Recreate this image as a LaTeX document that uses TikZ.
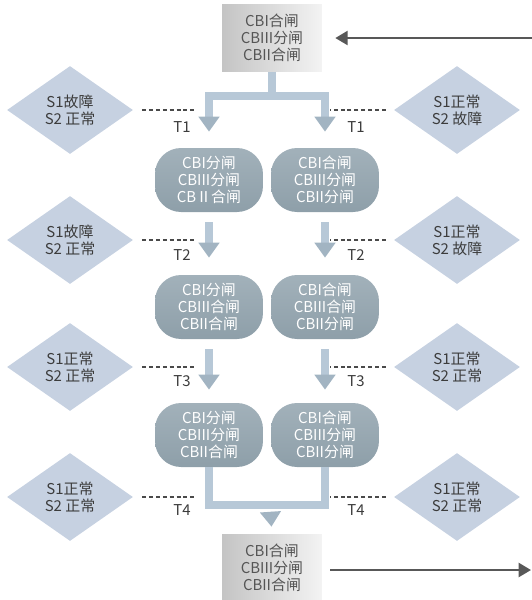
\documentclass[tikz,border=0pt]{standalone}
\usepackage{fontspec}
\setmainfont{Noto Sans CJK SC}
\usetikzlibrary{arrows.meta, shapes.geometric}

\begin{document}
\begin{tikzpicture}[x=0.02cm, y=-0.02cm,
    txt/.style={align=center, inner sep=0pt, font=\fontsize{8.5}{9.6}\selectfont},
    gbox/.style={txt, minimum width=2cm, minimum height=1.34cm, left color=gboxl, right color=gboxr, text=boxtext},
    pill/.style={txt, minimum width=2.16cm, minimum height=1.28cm, rounded corners=0.52cm, top color=pilltop, bottom color=pillbot, text=white},
    cond/.style={txt, diamond, minimum width=2.52cm, minimum height=1.76cm, fill=condfill, text=condtext},
    tlabel/.style={font=\fontsize{8.5}{9.6}\selectfont, text=condtext, inner sep=0pt},
    flowline/.style={draw=flowcol, line width=4pt},
    flow/.style={flowline, -{Triangle[width=11.5pt, length=8.5pt, fill=tipcol, color=tipcol]}},
    dotline/.style={draw=dotcol, line width=0.6pt, dash pattern=on 2.3pt off 1.6pt},
    sidearrow/.style={draw=arrcol, line width=1.2pt, -{Triangle[width=8pt, length=7pt]}}]
      \definecolor{gboxl}{HTML}{C4C4C4}
      \definecolor{gboxr}{HTML}{F3F3F3}
      \definecolor{boxtext}{HTML}{555555}
      \definecolor{pilltop}{HTML}{A2B1BA}
      \definecolor{pillbot}{HTML}{8E9FA9}
      \definecolor{condfill}{HTML}{C6D1E1}
      \definecolor{condtext}{HTML}{3C3C3C}
      \definecolor{flowcol}{HTML}{B7C8D7}
      \definecolor{tipcol}{HTML}{A2B4C2}
      \definecolor{dotcol}{HTML}{4A4A4A}
      \definecolor{arrcol}{HTML}{585858}
      \useasboundingbox (0,0) rectangle (532,600);

      % breaker states
      \node[gbox] (top) at (272,38)  {CBI合闸\\CBIII分闸\\CBII合闸};
      \node[pill] (l1)  at (209,180) {CBI分闸\\CBIII分闸\\CBⅡ合闸};
      \node[pill] (r1)  at (325,180) {CBI合闸\\CBIII分闸\\CBII分闸};
      \node[pill] (l2)  at (209,307) {CBI分闸\\CBIII合闸\\CBII合闸};
      \node[pill] (r2)  at (325,307) {CBI合闸\\CBIII合闸\\CBII分闸};
      \node[pill] (l3)  at (209,435) {CBI分闸\\CBIII分闸\\CBII合闸};
      \node[pill] (r3)  at (325,435) {CBI合闸\\CBIII分闸\\CBII分闸};
      \node[gbox] (bot) at (272,568) {CBI合闸\\CBIII分闸\\CBII合闸};

      % supply conditions
      \node[cond] (dl1) at (70,110)  {S1故障\\S2 正常};
      \node[cond] (dr1) at (457,110) {S1正常\\S2 故障};
      \node[cond] (dl2) at (70,240)  {S1故障\\S2 正常};
      \node[cond] (dr2) at (457,240) {S1正常\\S2 故障};
      \node[cond] (dl3) at (70,367)  {S1正常\\S2 正常};
      \node[cond] (dr3) at (457,367) {S1正常\\S2 正常};
      \node[cond] (dl4) at (70,497)  {S1正常\\S2 正常};
      \node[cond] (dr4) at (457,497) {S1正常\\S2 正常};

      % flow
      \coordinate (split) at (272,96);
      \coordinate (merge) at (270,505);
      \draw[flowline] (top.south) -- (split);
      \draw[flow, shorten >=0.32cm] (split) -| (l1.north);
      \draw[flow, shorten >=0.32cm] (split) -| (r1.north);
      \draw[flow, shorten <=0.2cm, shorten >=0.34cm] (l1.south) -- (l2.north);
      \draw[flow, shorten <=0.2cm, shorten >=0.34cm] (r1.south) -- (r2.north);
      \draw[flow, shorten <=0.2cm, shorten >=0.26cm] (l2.south) -- (l3.north);
      \draw[flow, shorten <=0.2cm, shorten >=0.26cm] (r2.south) -- (r3.north);
      \draw[flowline] (l3.south) |- (merge) -| (r3.south);
      \draw[flow, shorten <=0.14cm, shorten >=0.15cm] (merge) -- (bot.north);

      \coordinate (inr)  at (532,38);
      \coordinate (outr) at (531,570);
      \draw[sidearrow, shorten >=0.26cm] (inr) -- (top.east |- inr);
      \draw[sidearrow, shorten <=0.16cm] (bot.east |- outr) -- (outr);

      % timers
      \foreach \row/\y/\ty in {1/110/127, 2/240/255, 3/367/381, 4/497/510} {
        \coordinate (el\row) at (197,\y);
        \coordinate (er\row) at (330,\y);
        \draw[dotline, shorten <=0.18cm] (dl\row.east) -- (el\row);
        \draw[dotline, shorten <=0.16cm] (dr\row.west) -- (er\row);
        \node[tlabel] (tl\row) at (182,\ty) {T\row};
        \node[tlabel] (tr\row) at (356,\ty) {T\row};
      }
\end{tikzpicture}
\end{document}
